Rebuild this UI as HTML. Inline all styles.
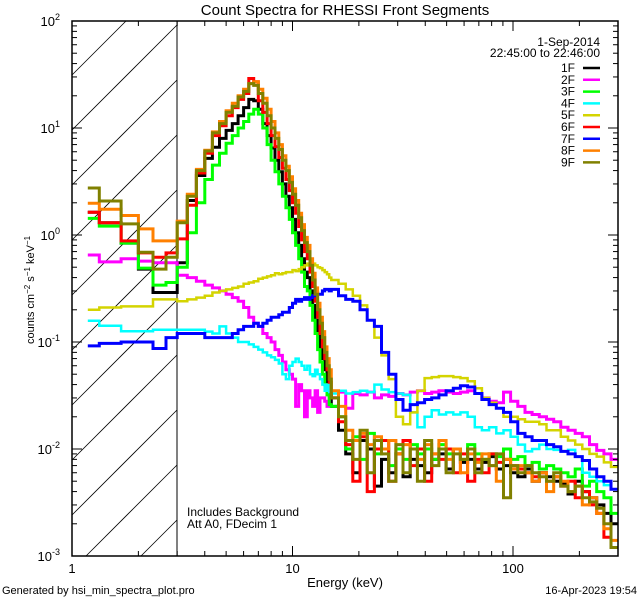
<!DOCTYPE html>
<html><head><meta charset="utf-8"><style>
html,body{margin:0;padding:0;background:#fff;width:640px;height:600px;overflow:hidden;}
svg{display:block;font-family:"Liberation Sans",sans-serif;}
</style></head><body>
<svg id="chart" width="640" height="600" viewBox="0 0 640 600" xmlns="http://www.w3.org/2000/svg">
<rect width="640" height="600" fill="#fff"/>
<defs><clipPath id="plotClip"><rect x="72" y="21" width="546" height="535"/></clipPath></defs>
<g id="hatch"></g>
<line x1="177" y1="21" x2="177" y2="556" stroke="#000" stroke-width="1"/>
<g id="series" clip-path="url(#plotClip)"></g>
<rect x="72" y="21" width="546" height="535" fill="none" stroke="#000" stroke-width="1.5"/>
<g id="axes"></g>
<text x="345" y="15" font-size="15" text-anchor="middle">Count Spectra for RHESSI Front Segments</text>
<text x="345" y="587" font-size="13" text-anchor="middle">Energy (keV)</text>
<text transform="translate(34,290) rotate(-90)" font-size="11" text-anchor="middle">counts cm<tspan baseline-shift="super" font-size="8">−2</tspan> s<tspan baseline-shift="super" font-size="8">−1</tspan> keV<tspan baseline-shift="super" font-size="8">−1</tspan></text>
<text x="187" y="516" font-size="12">Includes Background</text>
<text x="187" y="528" font-size="12">Att A0, FDecim 1</text>
<text x="2" y="594" font-size="11">Generated by hsi_min_spectra_plot.pro</text>
<text x="637" y="594" font-size="11" text-anchor="end">16-Apr-2023 19:54</text>
<text x="600" y="46" font-size="12" text-anchor="end">1-Sep-2014</text>
<text x="600" y="57" font-size="12" text-anchor="end">22:45:00 to 22:46:00</text>
<g id="legend"></g>
</svg>
<script>
const NS="http://www.w3.org/2000/svg";
const seriesNames=["1F","2F","3F","4F","5F","6F","7F","8F","9F"];
const seriesColors=["#000000","#ff00ff","#00ff00","#00ffff","#d4d400","#ff0000","#0000ff","#ff8000","#808000"];
const lowEdges=[1.18,1.33,1.67,2.0,2.33,2.67,3.0];
const xTickMajor=[1,10,100];
const xTickLabels=["1","10","100"];
const yTickExp=[-3,-2,-1,0,1,2];
const s1F=[1.63,1.30,0.84,0.48,0.29,0.29,
0.55,2.1,3.6,5.2,6.6,8,9.5,11,13,15.5,18.5,18,15,11,8.5,6.5,5,3.9,3.0,2.3,1.8,1.4,1.05,0.8,0.6,0.45,0.4,0.3,0.22,0.16,0.12,0.09,0.07,0.055,0.042,0.032,
0.025,0.015,0.009,0.006,0.012,0.01,0.0045,0.008,0.006,0.009,0.0055,0.008,0.007,0.006,0.008,0.009,0.0065,0.01,0.0075,0.008,0.0065,0.0075,0.0085,0.0065,0.007,0.006,0.0055,0.0065,0.005,0.006,0.0055,0.005,0.0048,0.0038,0.005,0.004,0.0035,0.003,0.0025,0.002];
const s2F=[0.65,0.56,0.6,0.57,0.55,0.55,
0.42,0.4,0.37,0.34,0.32,0.3,0.28,0.26,0.24,0.21,0.17,0.15,0.14,0.12,0.11,0.1,0.085,0.075,0.065,0.055,0.05,0.045,0.025,0.04,0.035,0.02,0.035,0.03,0.025,0.035,0.022,0.03,0.03,0.028,0.025,0.03,
0.03,0.034,0.024,0.033,0.032,0.034,0.03,0.032,0.031,0.033,0.032,0.034,0.035,0.033,0.034,0.035,0.034,0.033,0.034,0.035,0.033,0.03,0.028,0.027,0.034,0.028,0.025,0.022,0.021,0.02,0.019,0.018,0.016,0.015,0.014,0.013,0.011,0.0097,0.009,0.008];
const s3F=[1.43,1.21,0.84,0.49,0.34,0.36,
0.5,1.05,2.0,3.3,4.5,5.8,7.2,8.5,10,11.5,13.5,15,13.5,10,7,5,3.9,3.0,2.3,1.8,1.4,1.05,0.8,0.6,0.45,0.33,0.3,0.22,0.16,0.12,0.085,0.065,0.05,0.04,0.032,0.026,
0.025,0.02,0.01,0.013,0.008,0.014,0.009,0.01,0.007,0.01,0.008,0.011,0.009,0.01,0.008,0.011,0.009,0.01,0.008,0.011,0.009,0.008,0.009,0.0085,0.01,0.008,0.0085,0.007,0.0075,0.0065,0.007,0.0065,0.006,0.0055,0.0065,0.0045,0.005,0.004,0.0035,0.0025];
const s4F=[0.158,0.142,0.126,0.126,0.13,0.13,
0.13,0.13,0.13,0.125,0.12,0.14,0.12,0.11,0.1,0.1,0.095,0.09,0.085,0.08,0.075,0.072,0.068,0.063,0.05,0.045,0.06,0.065,0.07,0.065,0.06,0.055,0.06,0.05,0.048,0.055,0.05,0.045,0.04,0.035,0.04,0.034,
0.033,0.035,0.033,0.034,0.035,0.034,0.04,0.036,0.034,0.033,0.032,0.022,0.016,0.02,0.023,0.021,0.022,0.021,0.022,0.02,0.016,0.015,0.016,0.014,0.015,0.013,0.011,0.0095,0.01,0.011,0.01,0.0098,0.0095,0.0098,0.0085,0.006,0.0055,0.005,0.0046,0.0042];
const s5F=[0.2,0.21,0.215,0.215,0.25,0.25,
0.24,0.25,0.26,0.27,0.29,0.3,0.31,0.32,0.33,0.35,0.36,0.37,0.39,0.4,0.41,0.42,0.44,0.43,0.44,0.45,0.45,0.47,0.46,0.48,0.5,0.52,0.54,0.55,0.54,0.52,0.5,0.49,0.47,0.45,0.43,0.4,
0.38,0.35,0.31,0.27,0.22,0.16,0.11,0.075,0.045,0.02,0.017,0.022,0.035,0.046,0.047,0.048,0.048,0.047,0.046,0.043,0.037,0.03,0.027,0.024,0.02,0.02,0.019,0.018,0.018,0.017,0.015,0.015,0.013,0.012,0.011,0.01,0.009,0.0085,0.0075,0.0068];
const s6F=[1.63,1.30,0.88,0.68,0.62,0.68,
0.92,1.9,3.8,5.8,8.5,10.5,13,15.5,18.5,21,29,27,18,14,11,8.5,6.7,5.3,4.2,3.3,2.6,2.0,1.6,1.2,0.9,0.7,0.6,0.45,0.33,0.24,0.17,0.12,0.09,0.07,0.055,0.042,
0.03,0.018,0.011,0.005,0.013,0.004,0.01,0.012,0.005,0.009,0.012,0.007,0.01,0.005,0.009,0.008,0.01,0.006,0.009,0.005,0.008,0.006,0.009,0.0075,0.008,0.007,0.0065,0.006,0.0055,0.006,0.005,0.0055,0.0045,0.005,0.0035,0.004,0.003,0.0025,0.0015,0.0012];
const s7F=[0.092,0.097,0.1,0.1,0.087,0.11,
0.12,0.12,0.12,0.11,0.11,0.11,0.11,0.12,0.13,0.14,0.14,0.15,0.14,0.15,0.16,0.17,0.17,0.18,0.19,0.19,0.21,0.23,0.25,0.24,0.25,0.26,0.25,0.26,0.27,0.29,0.28,0.28,0.3,0.31,0.31,0.3,
0.31,0.27,0.25,0.24,0.2,0.16,0.14,0.08,0.05,0.029,0.023,0.026,0.027,0.029,0.03,0.032,0.035,0.037,0.039,0.038,0.033,0.029,0.026,0.024,0.022,0.018,0.014,0.013,0.012,0.012,0.011,0.0105,0.0095,0.009,0.0085,0.0078,0.0065,0.0055,0.005,0.0042];
const s8F=[1.98,1.74,1.52,1.14,0.88,0.88,
1.35,2.4,4.1,6.2,9.2,11.5,14.5,17,20,23,26,27,23,19,15,11.5,9,7,5.5,4.4,3.5,2.7,2.1,1.6,1.25,0.95,0.8,0.6,0.44,0.32,0.23,0.17,0.125,0.09,0.07,0.055,
0.035,0.025,0.015,0.012,0.014,0.011,0.013,0.01,0.012,0.009,0.011,0.01,0.008,0.011,0.009,0.012,0.008,0.01,0.006,0.009,0.0075,0.009,0.007,0.005,0.008,0.0065,0.007,0.006,0.005,0.006,0.004,0.0055,0.005,0.004,0.0045,0.003,0.0035,0.0025,0.0018,0.0014];
const s9F=[2.75,2.08,1.27,0.69,0.48,0.62,
1.3,2.3,4.0,6.1,9.0,11,14,16,19.5,22,26,25,21,17,13,10,8,6.3,5,4,3.1,2.4,1.9,1.45,1.1,0.85,0.7,0.52,0.38,0.28,0.2,0.15,0.11,0.08,0.06,0.045,
0.03,0.02,0.012,0.008,0.015,0.006,0.012,0.009,0.005,0.011,0.006,0.01,0.005,0.012,0.007,0.01,0.006,0.009,0.008,0.01,0.006,0.008,0.007,0.009,0.0035,0.007,0.006,0.007,0.006,0.0055,0.005,0.006,0.0045,0.004,0.0045,0.0035,0.0032,0.0028,0.002,0.0012];
const seriesData=[s1F,s2F,s3F,s4F,s5F,s6F,s7F,s8F,s9F];

const edges=lowEdges.slice();
for(let k=1;k<=36;k++) edges.push(3+k/3);
for(let k=1;k<=40;k++) edges.push(15*Math.pow(20,k/40));

const X0=72,X1=618,Y0=21,Y1=556;
const xDec=220.5, yDec=107;
function xScale(e){return X0+xDec*Math.log10(e);}
function yScale(v){return Y0+yDec*(2-Math.log10(v));}

// hatch lines, geometrically clipped to the 1-3 keV region
const hatch=document.getElementById('hatch');
const HX1=177;
for(let c=-560;c<700;c+=55){
  const b=85+c; // y at x=X0, slope -1
  let xa=X0, ya=b, xb=HX1, yb=b-(HX1-X0);
  if(ya>Y1){xa=X0+(ya-Y1); ya=Y1;}
  if(yb<Y0){xb=X0+(b-Y0); yb=Y0;}
  if(xa>=xb||ya<Y0||yb>Y1) continue;
  const l=document.createElementNS(NS,'line');
  l.setAttribute('x1',xa);l.setAttribute('y1',ya);
  l.setAttribute('x2',xb);l.setAttribute('y2',yb);
  l.setAttribute('stroke','#000');l.setAttribute('stroke-width','0.8');
  
  
  hatch.appendChild(l);
}

const sg=document.getElementById('series');
seriesData.forEach((vals,i)=>{
  let d='';
  for(let j=0;j<vals.length;j++){
    const xa=xScale(edges[j]).toFixed(1), xb=Math.min(X1,xScale(edges[j+1])).toFixed(1), y=Math.min(Y1,yScale(vals[j])).toFixed(1);
    d+=(j===0?'M':'L')+xa+','+y+'L'+xb+','+y;
  }
  const p=document.createElementNS(NS,'path');
  p.setAttribute('d',d);p.setAttribute('fill','none');
  p.setAttribute('stroke',seriesColors[i]);
  p.setAttribute('stroke-width',(i===3||i===4)?'2.5':'3');
  
  
  sg.appendChild(p);
});

const ax=document.getElementById('axes');
function line(x1,y1,x2,y2,name){
  const l=document.createElementNS(NS,'line');
  l.setAttribute('x1',x1);l.setAttribute('y1',y1);l.setAttribute('x2',x2);l.setAttribute('y2',y2);
  l.setAttribute('stroke','#000');l.setAttribute('stroke-width','1');
  
  
  ax.appendChild(l);
}
function text(x,y,s,anchor,size,name){
  const t=document.createElementNS(NS,'text');
  t.setAttribute('x',x);t.setAttribute('y',y);t.setAttribute('font-size',size);
  t.setAttribute('text-anchor',anchor);t.textContent=s;
  
  
  ax.appendChild(t);return t;
}
for(let dec=1;dec<=100;dec*=10){
  for(let m=1;m<=9;m++){
    const e=dec*m; const x=xScale(e); if(x>X1) break;
    const len=m===1?10:5;
    line(x,Y1,x,Y1-len,'x-tick');
    line(x,Y0,x,Y0+len,'x-tick-top');
  }
}
xTickMajor.forEach((e,i)=>text(xScale(e),573,xTickLabels[i],'middle',13,'x-tick-label'));
yTickExp.forEach((p,i)=>{
  for(let m=1;m<=9;m++){
    if(p===2&&m>1) break;
    const y=yScale(m*Math.pow(10,p));
    const len=m===1?10:5;
    line(X0,y,X0+len,y,'y-tick');
    line(X1,y,X1-len,y,'y-tick-right');
  }
  const t=text(60,yScale(Math.pow(10,p))+5,'10','end',13,'y-tick-label');
  const sup=document.createElementNS(NS,'tspan');
  sup.setAttribute('font-size','9');sup.setAttribute('dy','-6');
  sup.textContent=String(p);
  t.appendChild(sup);
});

const lg=document.getElementById('legend');
seriesNames.forEach((n,i)=>{
  const y=68+i*11.8;
  const t=document.createElementNS(NS,'text');
  t.setAttribute('x',575);t.setAttribute('y',y+4);t.setAttribute('font-size','12');
  t.setAttribute('text-anchor','end');t.textContent=n;
  
  
  lg.appendChild(t);
  const l=document.createElementNS(NS,'line');
  l.setAttribute('x1',583);l.setAttribute('x2',600);l.setAttribute('y1',y);l.setAttribute('y2',y);
  l.setAttribute('stroke',seriesColors[i]);l.setAttribute('stroke-width','2.5');
  
  
  lg.appendChild(l);
});
</script>
</body></html>
